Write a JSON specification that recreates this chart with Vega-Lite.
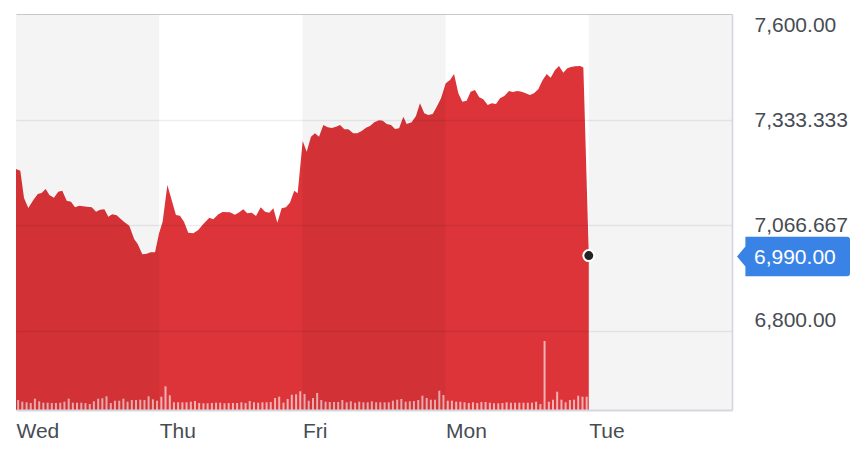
{
  "$schema": "https://vega.github.io/schema/vega-lite/v6.json",
  "width": 716,
  "height": 396,
  "autosize": {"type": "none"},
  "padding": {"left": 16, "top": 14, "right": 136, "bottom": 52},
  "background": "white",
  "config": {"view": {"stroke": null}, "font": "Liberation Sans", "scale": {"continuousPadding": 0}},
  "datasets": {
    "price": [
      {"t":0.000,"p":7208.6},{"t":0.030,"p":7204.3},{"t":0.056,"p":7135.4},{"t":0.086,"p":7110.1},{"t":0.121,"p":7130.3},{"t":0.152,"p":7145.5},{"t":0.179,"p":7148.0},{"t":0.207,"p":7158.1},{"t":0.233,"p":7142.9},{"t":0.265,"p":7136.1},{"t":0.295,"p":7151.3},{"t":0.323,"p":7153.8},{"t":0.354,"p":7128.5},{"t":0.384,"p":7126.0},{"t":0.412,"p":7111.9},{"t":0.442,"p":7115.9},{"t":0.494,"p":7113.4},{"t":0.529,"p":7111.9},{"t":0.559,"p":7100.8},{"t":0.587,"p":7105.8},{"t":0.617,"p":7106.8},{"t":0.645,"p":7088.1},{"t":0.672,"p":7094.2},{"t":0.703,"p":7091.7},{"t":0.726,"p":7084.1},{"t":0.754,"p":7075.5},{"t":0.791,"p":7065.4},{"t":0.826,"p":7031.1},{"t":0.850,"p":7019.2},{"t":0.882,"p":6993.2},{"t":0.913,"p":6994.7},{"t":0.941,"p":6998.2},{"t":0.971,"p":6998.2},
      {"t":0.999,"p":7046.2},{"t":1.024,"p":7075.5},{"t":1.057,"p":7168.2},{"t":1.087,"p":7130.3},{"t":1.117,"p":7092.4},{"t":1.145,"p":7090.7},{"t":1.173,"p":7075.5},{"t":1.203,"p":7047.7},{"t":1.238,"p":7046.2},{"t":1.273,"p":7054.6},{"t":1.308,"p":7069.7},{"t":1.350,"p":7085.6},{"t":1.378,"p":7081.6},{"t":1.413,"p":7094.2},{"t":1.443,"p":7100.0},{"t":1.494,"p":7099.3},{"t":1.529,"p":7093.2},{"t":1.559,"p":7099.3},{"t":1.587,"p":7106.8},{"t":1.615,"p":7096.7},{"t":1.646,"p":7098.3},{"t":1.676,"p":7089.9},{"t":1.709,"p":7111.9},{"t":1.739,"p":7100.8},{"t":1.769,"p":7098.3},{"t":1.797,"p":7109.3},{"t":1.825,"p":7073.0},{"t":1.855,"p":7109.3},{"t":1.885,"p":7111.9},{"t":1.913,"p":7123.5},{"t":1.943,"p":7153.8},{"t":1.967,"p":7147.2},
      {"t":2.002,"p":7279.3},{"t":2.030,"p":7252.3},{"t":2.060,"p":7290.2},{"t":2.088,"p":7298.7},{"t":2.116,"p":7290.2},{"t":2.146,"p":7319.7},{"t":2.177,"p":7313.9},{"t":2.205,"p":7312.1},{"t":2.235,"p":7315.4},{"t":2.263,"p":7319.7},{"t":2.293,"p":7308.8},{"t":2.321,"p":7308.8},{"t":2.355,"p":7298.7},{"t":2.383,"p":7298.7},{"t":2.414,"p":7304.6},{"t":2.444,"p":7312.9},{"t":2.472,"p":7317.2},{"t":2.502,"p":7326.5},{"t":2.535,"p":7331.6},{"t":2.561,"p":7330.6},{"t":2.589,"p":7322.2},{"t":2.619,"p":7319.7},{"t":2.647,"p":7309.6},{"t":2.675,"p":7311.4},{"t":2.705,"p":7340.7},{"t":2.728,"p":7322.2},{"t":2.763,"p":7326.5},{"t":2.793,"p":7342.4},{"t":2.821,"p":7374.5},{"t":2.851,"p":7349.3},{"t":2.879,"p":7345.0},{"t":2.910,"p":7347.5},{"t":2.938,"p":7365.9},{"t":2.968,"p":7387.1},
      {"t":3.001,"p":7425.0},{"t":3.031,"p":7433.3},{"t":3.059,"p":7448.5},{"t":3.089,"p":7399.8},{"t":3.117,"p":7378.5},{"t":3.147,"p":7381.1},{"t":3.175,"p":7403.8},{"t":3.205,"p":7408.1},{"t":3.235,"p":7389.7},{"t":3.263,"p":7384.6},{"t":3.294,"p":7370.2},{"t":3.322,"p":7374.5},{"t":3.352,"p":7372.7},{"t":3.380,"p":7387.1},{"t":3.410,"p":7392.9},{"t":3.443,"p":7405.6},{"t":3.469,"p":7403.0},{"t":3.501,"p":7405.6},{"t":3.531,"p":7403.8},{"t":3.559,"p":7399.8},{"t":3.589,"p":7395.5},{"t":3.617,"p":7399.8},{"t":3.647,"p":7409.9},{"t":3.678,"p":7433.3},{"t":3.706,"p":7448.5},{"t":3.734,"p":7439.2},{"t":3.764,"p":7458.6},{"t":3.792,"p":7468.7},{"t":3.822,"p":7451.8},{"t":3.850,"p":7462.9},{"t":3.876,"p":7466.2},{"t":3.904,"p":7468.0},{"t":3.939,"p":7468.7},{"t":3.962,"p":7464.9},
      {"t":4.000,"p":6990.0}
    ],
    "volume": [
      {"t":0.015,"vol":10},{"t":0.044,"vol":8.3},{"t":0.074,"vol":7.7},{"t":0.103,"vol":7},{"t":0.132,"vol":11.3},{"t":0.162,"vol":8.7},{"t":0.191,"vol":7.3},{"t":0.221,"vol":7.3},{"t":0.25,"vol":7},{"t":0.279,"vol":7},{"t":0.309,"vol":7.3},{"t":0.338,"vol":8.3},{"t":0.368,"vol":11.3},{"t":0.397,"vol":7.3},{"t":0.426,"vol":7.3},{"t":0.456,"vol":7.3},{"t":0.485,"vol":7},{"t":0.515,"vol":6},{"t":0.544,"vol":8.7},{"t":0.574,"vol":11.3},{"t":0.603,"vol":11.7},{"t":0.632,"vol":13.7},{"t":0.662,"vol":7},{"t":0.691,"vol":9.3},{"t":0.721,"vol":9.3},{"t":0.75,"vol":11.3},{"t":0.779,"vol":8.3},{"t":0.809,"vol":10},{"t":0.838,"vol":10},{"t":0.868,"vol":10.3},{"t":0.897,"vol":10},{"t":0.926,"vol":13.7},{"t":0.956,"vol":10.7},{"t":0.985,"vol":9.3},
      {"t":1.015,"vol":13.3},{"t":1.044,"vol":23.7},{"t":1.074,"vol":14.7},{"t":1.103,"vol":7.7},{"t":1.132,"vol":7.7},{"t":1.162,"vol":7.7},{"t":1.191,"vol":7.7},{"t":1.221,"vol":8.3},{"t":1.25,"vol":9},{"t":1.279,"vol":7},{"t":1.309,"vol":6.7},{"t":1.338,"vol":6.7},{"t":1.368,"vol":7},{"t":1.397,"vol":7.3},{"t":1.426,"vol":7.3},{"t":1.456,"vol":6.7},{"t":1.485,"vol":7},{"t":1.515,"vol":7},{"t":1.544,"vol":7},{"t":1.574,"vol":7.7},{"t":1.603,"vol":7},{"t":1.632,"vol":9},{"t":1.662,"vol":7.7},{"t":1.691,"vol":7.3},{"t":1.721,"vol":7.7},{"t":1.75,"vol":7.7},{"t":1.779,"vol":8},{"t":1.809,"vol":12},{"t":1.838,"vol":13.3},{"t":1.868,"vol":7.3},{"t":1.897,"vol":11},{"t":1.926,"vol":15.3},{"t":1.956,"vol":15.7},{"t":1.985,"vol":18.7},
      {"t":2.015,"vol":16},{"t":2.044,"vol":9.3},{"t":2.074,"vol":12},{"t":2.103,"vol":17},{"t":2.132,"vol":10},{"t":2.162,"vol":8.3},{"t":2.191,"vol":8},{"t":2.221,"vol":8},{"t":2.25,"vol":8},{"t":2.279,"vol":10},{"t":2.309,"vol":7.7},{"t":2.338,"vol":8.7},{"t":2.368,"vol":7.3},{"t":2.397,"vol":8.3},{"t":2.426,"vol":7.7},{"t":2.456,"vol":7.7},{"t":2.485,"vol":8.7},{"t":2.515,"vol":7.7},{"t":2.544,"vol":7.7},{"t":2.574,"vol":7.7},{"t":2.603,"vol":7.7},{"t":2.632,"vol":9.3},{"t":2.662,"vol":10.3},{"t":2.691,"vol":11},{"t":2.721,"vol":8.3},{"t":2.75,"vol":8.7},{"t":2.779,"vol":9},{"t":2.809,"vol":10},{"t":2.838,"vol":14.3},{"t":2.868,"vol":12},{"t":2.897,"vol":10.3},{"t":2.926,"vol":10.3},{"t":2.956,"vol":19.3},{"t":2.985,"vol":15},
      {"t":3.015,"vol":9.3},{"t":3.044,"vol":9.3},{"t":3.074,"vol":8.3},{"t":3.103,"vol":8.3},{"t":3.132,"vol":7.7},{"t":3.162,"vol":7},{"t":3.191,"vol":7.7},{"t":3.221,"vol":7},{"t":3.25,"vol":8},{"t":3.279,"vol":8},{"t":3.309,"vol":7.3},{"t":3.338,"vol":6.7},{"t":3.368,"vol":6.7},{"t":3.397,"vol":7},{"t":3.426,"vol":7.7},{"t":3.456,"vol":7.3},{"t":3.485,"vol":7.3},{"t":3.515,"vol":7.3},{"t":3.544,"vol":7.3},{"t":3.574,"vol":7.3},{"t":3.603,"vol":7.3},{"t":3.632,"vol":8.3},{"t":3.662,"vol":6},{"t":3.691,"vol":69},{"t":3.721,"vol":8.3},{"t":3.75,"vol":10.3},{"t":3.779,"vol":18.3},{"t":3.809,"vol":10.3},{"t":3.838,"vol":7.7},{"t":3.868,"vol":10},{"t":3.897,"vol":10.3},{"t":3.926,"vol":14.3},{"t":3.956,"vol":13.3},{"t":3.985,"vol":13.3}
    ],
    "sessions": [
      {"start": 0, "end": 1},
      {"start": 2, "end": 3},
      {"start": 4, "end": 5}
    ]
  },
  "layer": [
    {
      "data": {"name": "price"},
      "mark": {"type": "area", "color": "#dc3439", "opacity": 1},
      "encoding": {
        "x": {
          "field": "t", "type": "quantitative",
          "scale": {"domain": [0, 5], "nice": false, "zero": false, "padding": 0},
          "axis": {
            "values": [0, 1, 2, 3, 4],
            "labelExpr": "['Wed','Thu','Fri','Mon','Tue'][datum.value]",
            "labelAlign": "left",
            "labelBaseline": "top",
            "labelPadding": 10,
            "labelFontSize": 21,
            "labelFont": "Liberation Sans",
            "labelColor": "#474c53",
            "labelFlush": false,
            "labelOverlap": false,
            "ticks": false,
            "tickSize": 0,
            "grid": false,
            "domain": true,
            "domainColor": "#d6d7dd",
            "domainWidth": 2,
            "title": null,
            "zindex": 1
          }
        },
        "y": {
          "field": "p", "type": "quantitative",
          "scale": {"domain": [6600, 7600], "nice": false, "zero": false},
          "axis": {
            "orient": "right",
            "values": [6800, 7066.667, 7333.333, 7600],
            "labelExpr": "format(datum.value, datum.value % 100 == 0 ? ',.2f' : ',.3f')",
            "labelAlign": "left",
            "labelBaseline": "middle",
            "labelPadding": 22,
            "labelFontSize": 21,
            "labelFont": "Liberation Sans",
            "labelColor": "#474c53",
            "labelOverlap": false,
            "labelFlush": false,
            "labelOffset": {"condition": [{"test": "datum.value == 7600", "value": 11}, {"test": "datum.value == 6800", "value": -10}], "value": 0.5},
            "ticks": false,
            "tickSize": 0,
            "domain": true,
            "domainColor": "#d3d4da",
            "domainWidth": 1.5,
            "grid": true,
            "gridColor": {"condition": {"test": "datum.value == 7600", "value": "#c8c7d0"}, "value": "#000000"},
            "gridOpacity": {"condition": {"test": "datum.value == 7600", "value": 1}, "value": 0.07},
            "gridWidth": {"condition": {"test": "datum.value == 7600", "value": 1}, "value": 1.6},
            "title": null,
            "zindex": 1
          }
        },
        "y2": {"datum": 6600}
      }
    },
    {
      "data": {"name": "volume"},
      "mark": {"type": "bar", "color": "#ffffff", "opacity": 0.62, "width": 2},
      "encoding": {
        "x": {"field": "t", "type": "quantitative", "scale": {"domain": [0, 5], "nice": false, "zero": false, "padding": 0}},
        "y": {"field": "vol", "type": "quantitative", "scale": {"domain": [0, 396], "nice": false, "padding": 0}, "axis": null}
      }
    },
    {
      "data": {"name": "sessions"},
      "mark": {"type": "rect", "color": "#000000", "opacity": 0.043},
      "encoding": {
        "x": {"field": "start", "type": "quantitative", "scale": {"domain": [0, 5], "nice": false, "zero": false, "padding": 0}},
        "x2": {"field": "end"}
      }
    },
    {
      "data": {"name": "price"},
      "transform": [{"filter": "datum.t == 4"}],
      "mark": {"type": "point", "filled": true, "fill": "#232323", "stroke": "#ffffff", "strokeWidth": 2, "size": 120, "opacity": 1},
      "encoding": {
        "x": {"field": "t", "type": "quantitative", "scale": {"domain": [0, 5], "nice": false, "zero": false, "padding": 0}},
        "y": {"field": "p", "type": "quantitative", "scale": {"domain": [6600, 7600], "nice": false, "zero": false}, "axis": null}
      }
    },
    {
      "data": {"name": "price"},
      "transform": [{"filter": "datum.t == 4"}],
      "mark": {
        "type": "point", "filled": true, "fill": "#3a83e6", "strokeWidth": 0, "opacity": 1, "size": 1600,
        "shape": "M0.25,0.05 L0.67,-0.45 L0.67,-0.935 L5.75,-0.935 Q5.9,-0.935 5.9,-0.785 L5.9,0.885 Q5.9,1.035 5.75,1.035 L0.67,1.035 L0.67,0.55 Z"
      },
      "encoding": {
        "x": {"datum": 5, "type": "quantitative", "scale": {"domain": [0, 5], "nice": false, "zero": false, "padding": 0}},
        "y": {"field": "p", "type": "quantitative", "scale": {"domain": [6600, 7600], "nice": false, "zero": false}, "axis": null}
      }
    },
    {
      "data": {"name": "price"},
      "transform": [{"filter": "datum.t == 4"}],
      "mark": {"type": "text", "align": "left", "baseline": "middle", "dx": 22, "dy": 2, "fontSize": 21, "font": "Liberation Sans", "color": "#ffffff"},
      "encoding": {
        "x": {"datum": 5, "type": "quantitative", "scale": {"domain": [0, 5], "nice": false, "zero": false, "padding": 0}},
        "y": {"field": "p", "type": "quantitative", "scale": {"domain": [6600, 7600], "nice": false, "zero": false}, "axis": null},
        "text": {"field": "p", "type": "quantitative", "format": ",.2f"}
      }
    }
  ],
  "resolve": {"scale": {"y": "independent"}}
}
